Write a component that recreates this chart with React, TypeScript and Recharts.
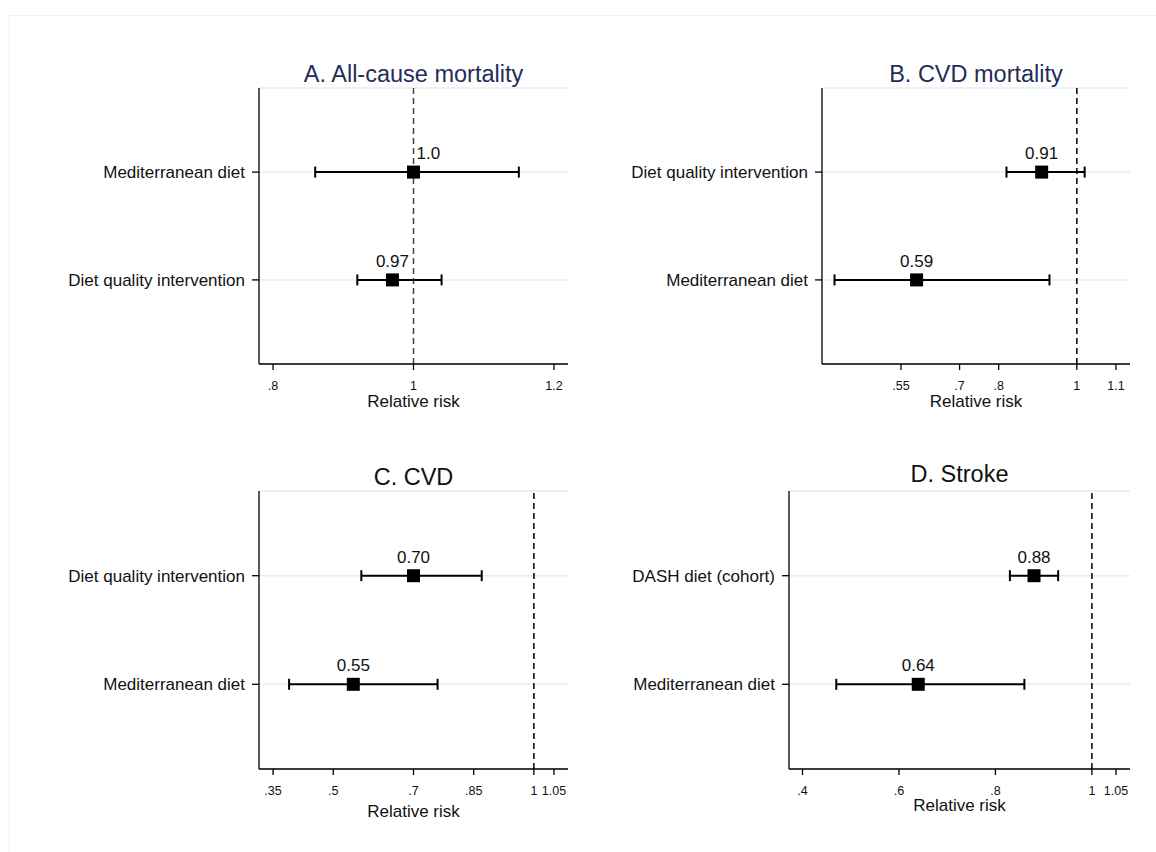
import React from "react";
import {
  ScatterChart,
  Scatter,
  XAxis,
  YAxis,
  CartesianGrid,
  ReferenceLine,
  ErrorBar,
} from "recharts";

// rows are numbered bottom-to-top: index 0 -> row 1, index 1 -> row 2
const A_LABELS = ["Diet quality intervention", "Mediterranean diet"];
const A_RR = [0.97, 1.0];
const A_LO = [0.92, 0.86];
const A_HI = [1.04, 1.15];
const A_TEXT = ["0.97", "1.0"];
const A_TICKS = [0.8, 1, 1.2];

const B_LABELS = ["Mediterranean diet", "Diet quality intervention"];
const B_RR = [0.59, 0.91];
const B_LO = [0.38, 0.82];
const B_HI = [0.93, 1.02];
const B_TEXT = ["0.59", "0.91"];
const B_TICKS = [0.55, 0.7, 0.8, 1, 1.1];

const C_LABELS = ["Mediterranean diet", "Diet quality intervention"];
const C_RR = [0.55, 0.7];
const C_LO = [0.39, 0.57];
const C_HI = [0.76, 0.87];
const C_TEXT = ["0.55", "0.70"];
const C_TICKS = [0.35, 0.5, 0.7, 0.85, 1, 1.05];

const D_LABELS = ["Mediterranean diet", "DASH diet (cohort)"];
const D_RR = [0.64, 0.88];
const D_LO = [0.47, 0.83];
const D_HI = [0.86, 0.93];
const D_TEXT = ["0.64", "0.88"];
const D_TICKS = [0.4, 0.6, 0.8, 1, 1.05];

const FONT = "'Liberation Sans', Arial, Helvetica, sans-serif";
const REF = 1;

const buildRows = (rr: number[], lo: number[], hi: number[], text: string[]) =>
  rr.map((v, i) => ({
    rr: v,
    row: i + 1,
    err: [v - lo[i], hi[i] - v],
    text: text[i],
  }));

// Stata style tick labels: ".8" instead of "0.8"
const fmtTick = (v: number) => String(v).replace(/^0\./, ".");

const Marker = (props: any) => {
  const { cx, cy, payload } = props;
  if (cx == null || cy == null) return null;
  const onRef = payload.rr === REF; // nudge label off the dashed line
  return (
    <g>
      <rect x={cx - 6.5} y={cy - 6.5} width={13} height={13} fill="#000" />
      <text
        x={onRef ? cx + 3 : cx}
        y={cy - 13}
        textAnchor={onRef ? "start" : "middle"}
        fontSize={17}
        fontFamily={FONT}
        fill="#111"
      >
        {payload.text}
      </text>
    </g>
  );
};

type PanelProps = {
  title: string;
  titleColor: string;
  left: number;
  top: number;
  width: number;
  height: number;
  axisW: number;
  margin: { top: number; right: number; bottom: number; left: number };
  xH: number;
  domain: [number, number];
  ticks: number[];
  labels: string[];
  data: any[];
  refColor: string;
  titleTop: number;
};

function Panel(p: PanelProps) {
  const plotLeft = p.left + p.axisW;
  const plotRight = p.left + p.width - p.margin.right;
  return (
    <>
      <div
        style={{
          position: "absolute",
          left: plotLeft,
          width: plotRight - plotLeft,
          top: p.titleTop,
          textAlign: "center",
          fontFamily: FONT,
          fontSize: 23.5,
          lineHeight: "24px",
          color: p.titleColor,
          whiteSpace: "nowrap",
        }}
      >
        {p.title}
      </div>
      <div style={{ position: "absolute", left: p.left, top: p.top }}>
        <ScatterChart width={p.width} height={p.height} margin={p.margin}>
          <CartesianGrid vertical={false} stroke="#e6eef1" strokeWidth={1.5} />
          <XAxis
            type="number"
            dataKey="rr"
            domain={p.domain}
            ticks={p.ticks}
            allowDataOverflow
            interval={0}
            tickFormatter={fmtTick}
            tick={{ fontSize: 12.5, fill: "#111", fontFamily: FONT }}
            tickSize={6}
            tickMargin={11}
            stroke="#000"
            strokeWidth={1.3}
            height={p.xH}
            label={{
              value: "Relative risk",
              position: "insideBottom",
              offset: 0,
              fontSize: 17,
              fill: "#111",
              fontFamily: FONT,
            }}
          />
          <YAxis
            type="number"
            dataKey="row"
            domain={[0.22, 2.78]}
            ticks={[1, 2]}
            allowDataOverflow
            interval={0}
            tickFormatter={(v: number) => p.labels[v - 1] ?? ""}
            tick={{ fontSize: 17, fill: "#111", fontFamily: FONT }}
            tickSize={7}
            tickMargin={7}
            stroke="#000"
            strokeWidth={1.3}
            width={p.axisW}
          />
          <ReferenceLine x={REF} stroke={p.refColor} strokeWidth={1.5} strokeDasharray="6 4" />
          <Scatter data={p.data} shape={<Marker />} isAnimationActive={false}>
            <ErrorBar dataKey="err" direction="x" width={5.5} stroke="#000" strokeWidth={2} />
          </Scatter>
        </ScatterChart>
      </div>
    </>
  );
}

export default function App() {
  return (
    <div
      style={{
        position: "absolute",
        left: 0,
        top: 0,
        width: 1156,
        height: 852,
        background: "#fff",
        overflow: "hidden",
      }}
    >
      <div
        style={{
          position: "absolute",
          left: 9,
          top: 15,
          width: 1200,
          height: 900,
          borderLeft: "1.5px solid #eef2f2",
          borderTop: "1.5px solid #eef2f2",
        }}
      />
      <Panel
        title="A. All-cause mortality"
        titleColor="#1f2d58"
        titleTop={62}
        left={0}
        top={50}
        width={580}
        height={380}
        axisW={259}
        margin={{ top: 38, right: 12, bottom: 23, left: 0 }}
        xH={43}
        domain={[0.78, 1.22]}
        ticks={A_TICKS}
        labels={A_LABELS}
        data={buildRows(A_RR, A_LO, A_HI, A_TEXT)}
        refColor="#444"
      />
      <Panel
        title="B. CVD mortality"
        titleColor="#1f2d58"
        titleTop={62}
        left={580}
        top={50}
        width={570}
        height={380}
        axisW={242}
        margin={{ top: 38, right: 20, bottom: 23, left: 0 }}
        xH={43}
        domain={[0.348, 1.136]}
        ticks={B_TICKS}
        labels={B_LABELS}
        data={buildRows(B_RR, B_LO, B_HI, B_TEXT)}
        refColor="#000"
      />
      <Panel
        title="C. CVD"
        titleColor="#111"
        titleTop={465}
        left={0}
        top={460}
        width={580}
        height={380}
        axisW={259}
        margin={{ top: 31, right: 12, bottom: 23, left: 0 }}
        xH={48}
        domain={[0.315, 1.085]}
        ticks={C_TICKS}
        labels={C_LABELS}
        data={buildRows(C_RR, C_LO, C_HI, C_TEXT)}
        refColor="#000"
      />
      <Panel
        title="D. Stroke"
        titleColor="#111"
        titleTop={462}
        left={580}
        top={460}
        width={570}
        height={380}
        axisW={209}
        margin={{ top: 31, right: 20, bottom: 29, left: 0 }}
        xH={42}
        domain={[0.372, 1.079]}
        ticks={D_TICKS}
        labels={D_LABELS}
        data={buildRows(D_RR, D_LO, D_HI, D_TEXT)}
        refColor="#000"
      />
    </div>
  );
}
